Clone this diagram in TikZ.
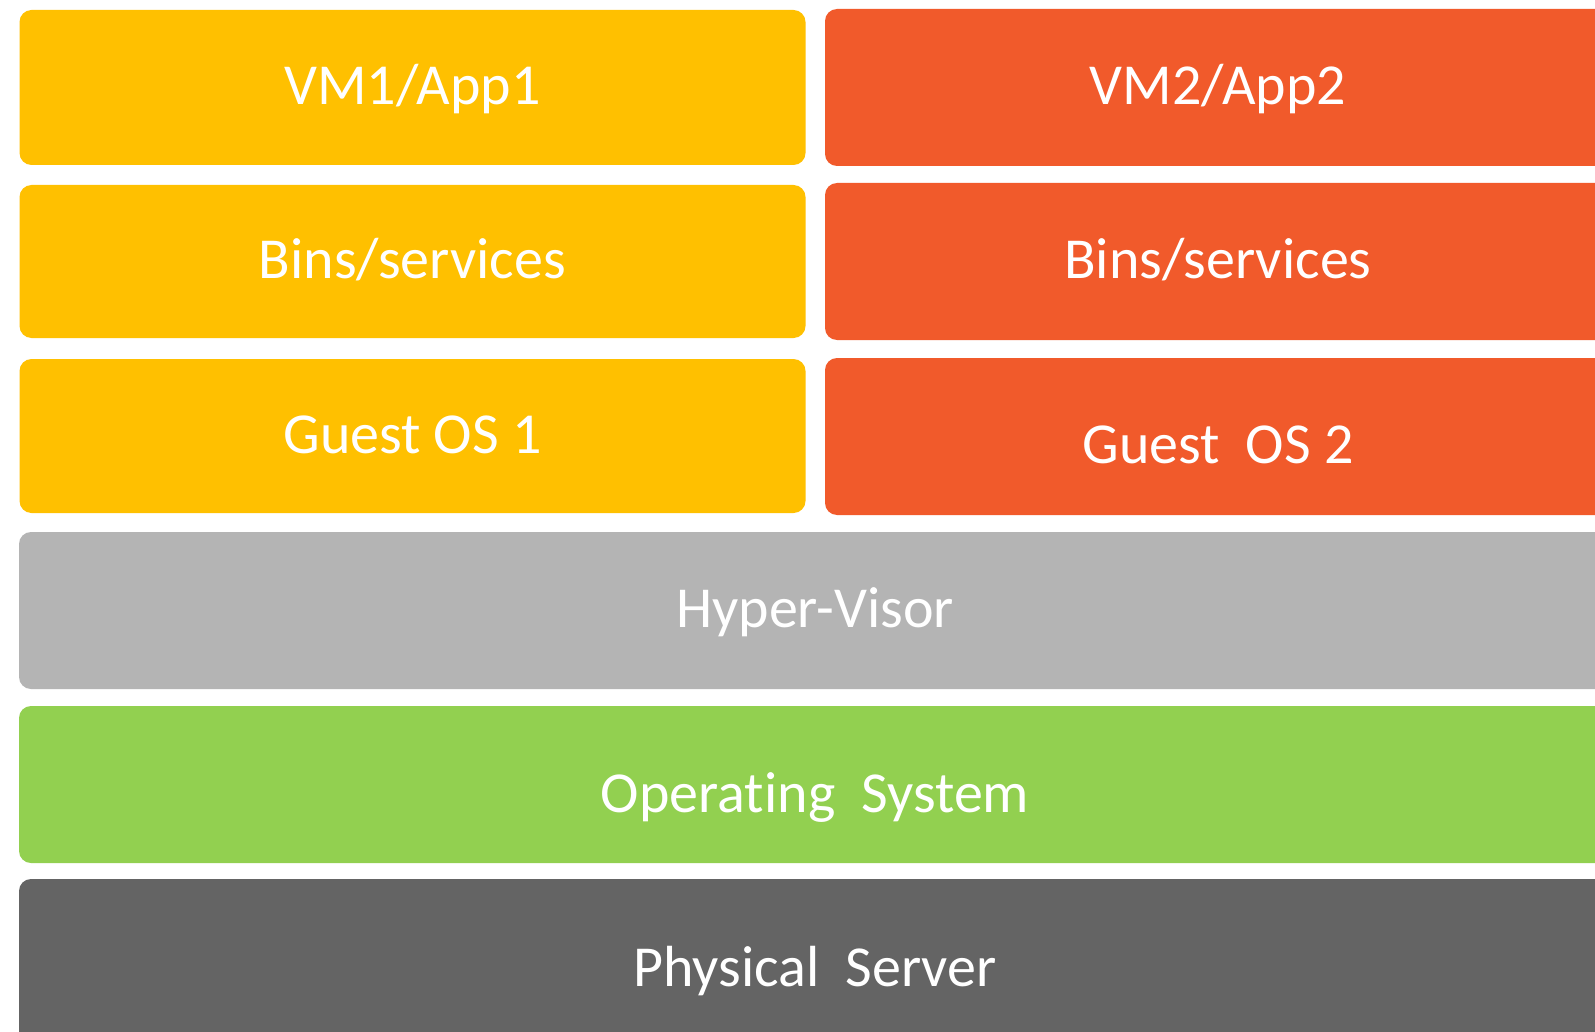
\documentclass[tikz,border=0pt]{standalone}
\usepackage{fontspec}
\setmainfont{Carlito}[Ligatures=NoCommon]
\usepackage{tikz}
\usetikzlibrary{positioning}
\definecolor{vmyellow}{HTML}{FFC000}
\definecolor{vmorange}{HTML}{F15A2B}
\definecolor{hvgray}{HTML}{B4B4B4}
\definecolor{osgreen}{HTML}{92D050}
\definecolor{srvgray}{HTML}{646464}

\begin{document}
\begin{tikzpicture}[x=0.5pt, y=-0.5pt,
  font=\fontsize{29}{34}\selectfont,
  layer/.style={rectangle, rounded corners=6pt, draw=none, text=white,
    minimum height=78.5pt, inner sep=0pt, outer sep=0pt,
    text height=22.5pt, text depth=5.5pt},
  half/.style={layer, minimum width=393pt},
  full/.style={layer, minimum width=796pt},
  vmone/.style={half, fill=vmyellow},
  vmtwo/.style={half, fill=vmorange}]
  \clip (0,0) rectangle (1595,1032);
  \useasboundingbox (0,0) rectangle (1595,1032);
  \fill[white] (0,0) rectangle (1595,1032);
  % guest stacks
  \node[vmone, minimum height=77.5pt] (app1) at (412.5,87.5) {VM1/App1};
  \node[vmtwo] (app2) at (1218,87.5) {VM2/App2};
  \node[vmone, minimum height=76.5pt] (bins1) at (412.5,261.5) {Bins/services};
  \node[vmtwo] (bins2) at (1218,261.5) {Bins/services};
  \node[vmone, minimum height=77pt] (guest1) at (412.5,436) {Guest OS 1};
  \node[vmtwo] (guest2) at (1218,436.5) {\raisebox{-5pt}{Guest\ \ OS 2}};
  % host layers
  \node[full, fill=hvgray] (hyper) at (815,610.5) {Hyper-Visor};
  \node[full, fill=osgreen] (hostos) at (815,784.5) {\raisebox{-5.5pt}{Operating\ \ System}};
  \node[full, fill=srvgray, minimum height=87pt] (server) at (815,966) {\raisebox{-1.5pt}{Physical\ \ Server}};
\end{tikzpicture}
\end{document}
